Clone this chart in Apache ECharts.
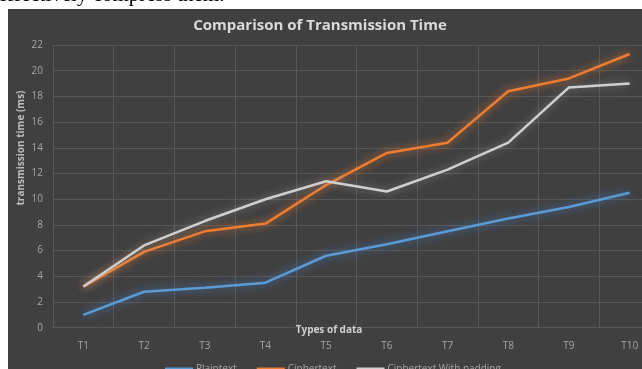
<!DOCTYPE html>
<html>
<head>
<meta charset="utf-8">
<script src="https://cdn.jsdelivr.net/npm/echarts@6/dist/echarts.min.js"></script>
<style>
  html, body { margin: 0; padding: 0; background: #ffffff; }
  #chart { width: 642px; height: 369px; }
</style>
</head>
<body>
<div id="chart"></div>
<script>
// Categories and measured transmission times (ms)
const categories = ['T1', 'T2', 'T3', 'T4', 'T5', 'T6', 'T7', 'T8', 'T9', 'T10'];
const plaintext = [1.0, 2.8, 3.1, 3.5, 5.6, 6.5, 7.5, 8.5, 9.4, 10.5];
const ciphertext = [3.2, 5.9, 7.5, 8.1, 11.1, 13.6, 14.4, 18.4, 19.4, 21.3];
const cipherPadding = [3.2, 6.4, 8.3, 10.0, 11.4, 10.6, 12.3, 14.4, 18.7, 19.0];
const seriesNames = ['Plaintext', 'Ciphertext', 'Ciphertext With padding'];
const yTicks = { min: 0, max: 22, interval: 2 };

const FONT = '"Open Sans", "Noto Sans", sans-serif';
const labelColor = '#a6a6a6';
const gridColor = '#575757';

function glowLine(name, data, color, glow) {
  return {
    name: name,
    type: 'line',
    data: data,
    symbol: 'none',
    smooth: false,
    lineStyle: {
      color: color,
      width: 2.5,
      shadowColor: glow,
      shadowBlur: 8
    },
    itemStyle: { color: color }
  };
}

const chart = echarts.init(document.getElementById('chart'), null, { renderer: 'canvas' });
chart.setOption({
  backgroundColor: '#ffffff',
  animation: false,
  graphic: [
    {
      type: 'text', left: -2, top: -15, z: -20,
      style: { text: 'effectively compress them.', font: '21px "Liberation Serif", serif', fill: '#000000' }
    },
    {
      type: 'rect', shape: { x: 8, y: 9, width: 634, height: 360 }, z: -10, silent: true,
      style: { fill: '#404040' }
    },
    {
      type: 'text', x: 329, y: 330, z: 10,
      style: { text: 'Types of data', font: 'bold 10px ' + FONT, fill: '#d0d0d0', align: 'center', verticalAlign: 'middle' }
    },
    {
      type: 'text', x: 21, y: 148, rotation: Math.PI / 2, z: 10,
      style: { text: 'transmission time (ms)', font: 'bold 10px ' + FONT, fill: '#bdbdbd', align: 'center', verticalAlign: 'middle' }
    }
  ],
  title: {
    text: 'Comparison of Transmission Time',
    left: 315, top: 13, textAlign: 'center',
    textStyle: { color: '#dadada', fontSize: 15, fontWeight: 'bold', fontFamily: FONT }
  },
  legend: {
    data: seriesNames,
    left: 160, top: 359,
    itemWidth: 28, itemHeight: 3, itemGap: 20,
    icon: 'rect',
    textStyle: { color: labelColor, fontSize: 10, fontFamily: FONT, padding: [0, 0, 0, -2] }
  },
  // plot area runs past the right edge of the canvas
  grid: { left: 53, top: 45, width: 607, height: 282.7, outerBoundsMode: 'none', containLabel: false },
  xAxis: {
    type: 'category',
    data: categories,
    boundaryGap: true,
    axisLine: { show: true, lineStyle: { color: gridColor } },
    axisTick: { show: false },
    axisLabel: { color: labelColor, fontSize: 10, fontFamily: FONT, margin: 13 },
    splitLine: { show: true, lineStyle: { color: gridColor, width: 1 } }
  },
  yAxis: {
    type: 'value',
    min: yTicks.min, max: yTicks.max, interval: yTicks.interval,
    axisLine: { show: false },
    axisTick: { show: false },
    axisLabel: { color: labelColor, fontSize: 10, fontFamily: FONT, margin: 10 },
    splitLine: { show: true, lineStyle: { color: gridColor, width: 1 } }
  },
  series: [
    glowLine(seriesNames[0], plaintext, '#5b9bd5', 'rgba(70,130,210,0.9)'),
    glowLine(seriesNames[1], ciphertext, '#ed7d31', 'rgba(237,125,49,0.9)'),
    glowLine(seriesNames[2], cipherPadding, '#cfcfcf', 'rgba(200,200,200,0.5)')
  ]
});
</script>
</body>
</html>
